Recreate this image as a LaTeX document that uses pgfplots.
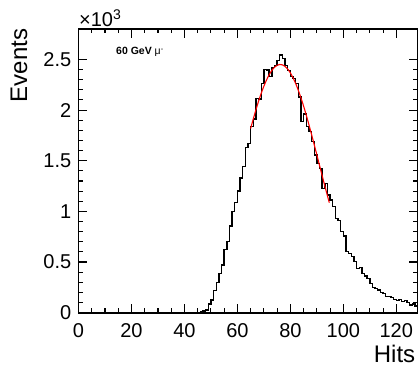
\documentclass[border=0pt]{standalone}
\usepackage{fontspec}
\setmainfont{Liberation Sans}
\usepackage{pgfplots}
\pgfplotsset{compat=1.18}
\begin{document}
\begin{tikzpicture}
\useasboundingbox (-78.5pt,-54.3pt) rectangle (339.5pt,312.7pt);
\begin{axis}[
  at={(0pt,0pt)}, anchor=south west,
  scale only axis, width=339pt, height=283.7pt,
  xmin=0, xmax=128, ymin=0, ymax=2800,
  xtick={0,20,...,120}, minor x tick num=3,
  ytick={0,500,...,2500}, yticklabels={0,0.5,1,1.5,2,2.5}, minor y tick num=4,
  tick pos=both, tick align=inside,
  major tick length=9pt, minor tick length=4.5pt,
  line width=1.6pt,
  axis line style={line width=1.6pt},
  every tick/.style={black, line width=1.1pt},
  /pgf/number format/assume math mode=true,
  ticklabel style={font=\fontsize{20}{24}\selectfont},
  yticklabel style={inner sep=0pt, xshift=-6.5pt},
  xticklabel style={inner sep=0pt, yshift=-10.5pt},
  xlabel={Hits},
  xlabel style={at={(axis description cs:0.9956,-0.177)}, anchor=base east, inner sep=0pt, font=\fontsize{24}{28}\selectfont},
  ylabel={Events},
  ylabel style={at={(axis description cs:-0.1519,1.0035)}, anchor=base east, inner sep=0pt, font=\fontsize{24}{28}\selectfont},
]
\addplot[const plot, black, line width=1.4pt] coordinates {
(0,0) (45,3) (46,8) (47,15) (48,27) (49,86) (50,125) (51,217) (52,296) (53,389)
(54,471) (55,626) (56,701) (57,856) (58,1000) (59,1090) (60,1200) (61,1330) (62,1440)
(63,1630) (64,1672) (65,1835) (66,1910) (67,2117) (68,2110) (69,2264) (70,2400)
(71,2396) (72,2330) (73,2420) (74,2440) (75,2490) (76,2545) (77,2510) (78,2440)
(79,2390) (80,2330) (81,2310) (82,2260) (83,2130) (84,1886) (85,1960) (86,1840)
(87,1790) (88,1689) (89,1557) (90,1475) (91,1426) (92,1228) (93,1277) (94,1162)
(95,1113) (96,1047) (97,932) (98,910) (99,800) (100,757) (101,602) (102,585)
(103,553) (104,504) (105,438) (106,445) (107,389) (108,362) (109,340) (110,290)
(111,250) (112,240) (113,224) (114,198) (115,190) (116,158) (117,158) (118,150)
(119,132) (120,119) (121,132) (122,110) (123,119) (124,99) (125,76) (126,86)
(127,66) (128,66)
};
\addplot[red, line width=1.1pt, smooth] coordinates {
(65,1818) (66,1913) (67,2003) (68,2088) (69,2166) (70,2236) (71,2297) (72,2349)
(73,2391) (74,2422) (75,2442) (76,2450) (77,2446) (78,2431) (79,2405) (80,2367)
(81,2319) (82,2262) (83,2195) (84,2120) (85,2038) (86,1950) (87,1856) (88,1759)
(89,1659) (90,1558) (91,1455) (92,1353) (93,1252) (94,1153) (94.7,1086)
};
\end{axis}
\node[anchor=base west, inner sep=0pt, font=\fontsize{20}{24}\selectfont] at (0.5pt,285.7pt) {×10\textsuperscript{3}};
\node[anchor=base west, inner sep=0pt, font=\fontsize{10.5}{12}\selectfont\bfseries] at (37.5pt,257.7pt) {60 GeV {\mdseries μ\textsuperscript{-}}};
\end{tikzpicture}
\end{document}
